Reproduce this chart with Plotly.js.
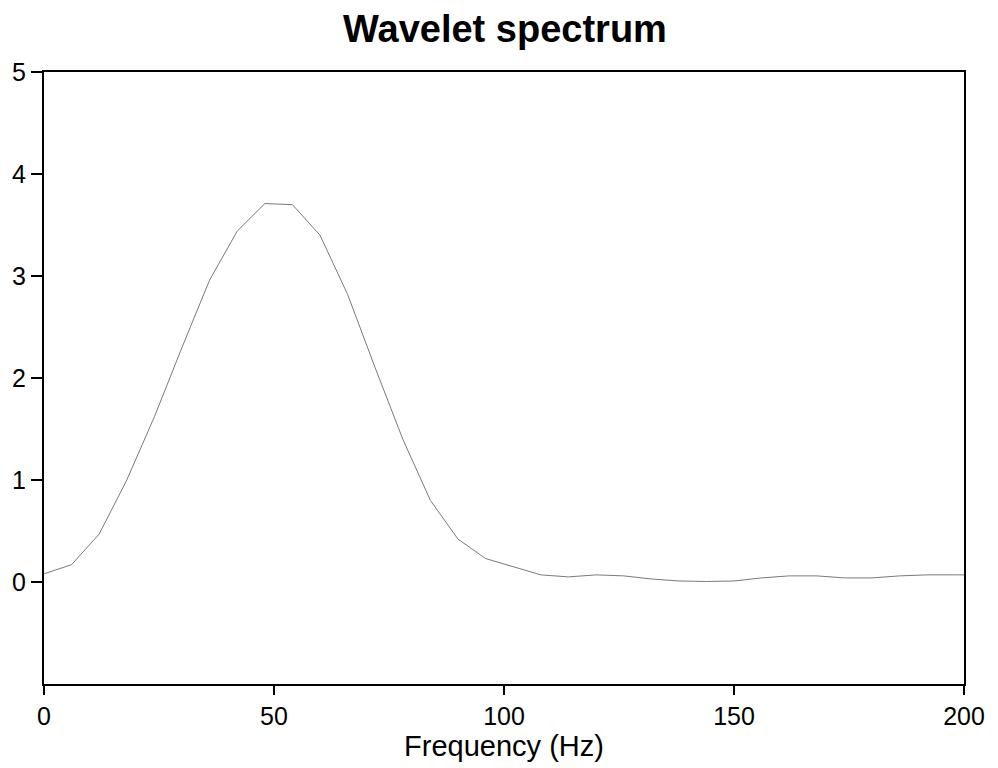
<!DOCTYPE html>
<html>
<head>
<meta charset="utf-8">
<script src="https://cdn.plot.ly/plotly-3.0.1.min.js"></script>
<style>html,body{margin:0;padding:0;background:#fff;}#chart{width:998px;height:768px;}</style>
</head>
<body>
<div id="chart"></div>
<script>
const frequency = [0,6,12,18,24,30,36,42,48,54,60,66,72,78,84,90,96,102,108,114,120,126,132,138,144,150,156,162,168,174,180,186,192,198,200];
const power = [0.08,0.17,0.47,1.0,1.62,2.3,2.96,3.44,3.71,3.70,3.40,2.82,2.1,1.4,0.80,0.42,0.23,0.15,0.07,0.05,0.07,0.06,0.03,0.01,0.005,0.01,0.04,0.06,0.06,0.04,0.04,0.06,0.07,0.07,0.07];
const xTicks = [0,50,100,150,200];
const yTicks = [0,1,2,3,4,5];

const font = "Liberation Sans, Arial, sans-serif";
Plotly.newPlot('chart', [{
  x: frequency, y: power, type: 'scatter', mode: 'lines',
  line: {color: '#7a7a7a', width: 1}, hoverinfo: 'none'
}], {
  width: 998, height: 768,
  margin: {l: 44, r: 34, t: 72, b: 84},
  paper_bgcolor: '#fff', plot_bgcolor: '#fff',
  showlegend: false,
  title: {text: '<b>Wavelet spectrum</b>', font: {family: font, size: 38, color: '#000'}, x: 0.506, xanchor: 'center', y: 0.962, yanchor: 'middle'},
  xaxis: {
    range: [0, 200], tickvals: xTicks, ticktext: xTicks.map(String),
    showgrid: false, zeroline: false, showline: true, mirror: true,
    linecolor: '#000', linewidth: 2, ticks: 'outside', ticklen: 9, tickwidth: 2, tickcolor: '#000',
    tickfont: {family: font, size: 25, color: '#000'},
    title: {text: 'Frequency (Hz)', font: {family: font, size: 29, color: '#000'}, standoff: 2}
  },
  yaxis: {
    range: [-1, 5], tickvals: yTicks, ticktext: yTicks.map(String),
    showgrid: false, zeroline: false, showline: true, mirror: true,
    linecolor: '#000', linewidth: 2, ticks: 'outside', ticklen: 11, tickwidth: 2, tickcolor: '#000',
    tickfont: {family: font, size: 25, color: '#000'}
  }
}, {displayModeBar: false, staticPlot: true});
</script>
</body>
</html>
